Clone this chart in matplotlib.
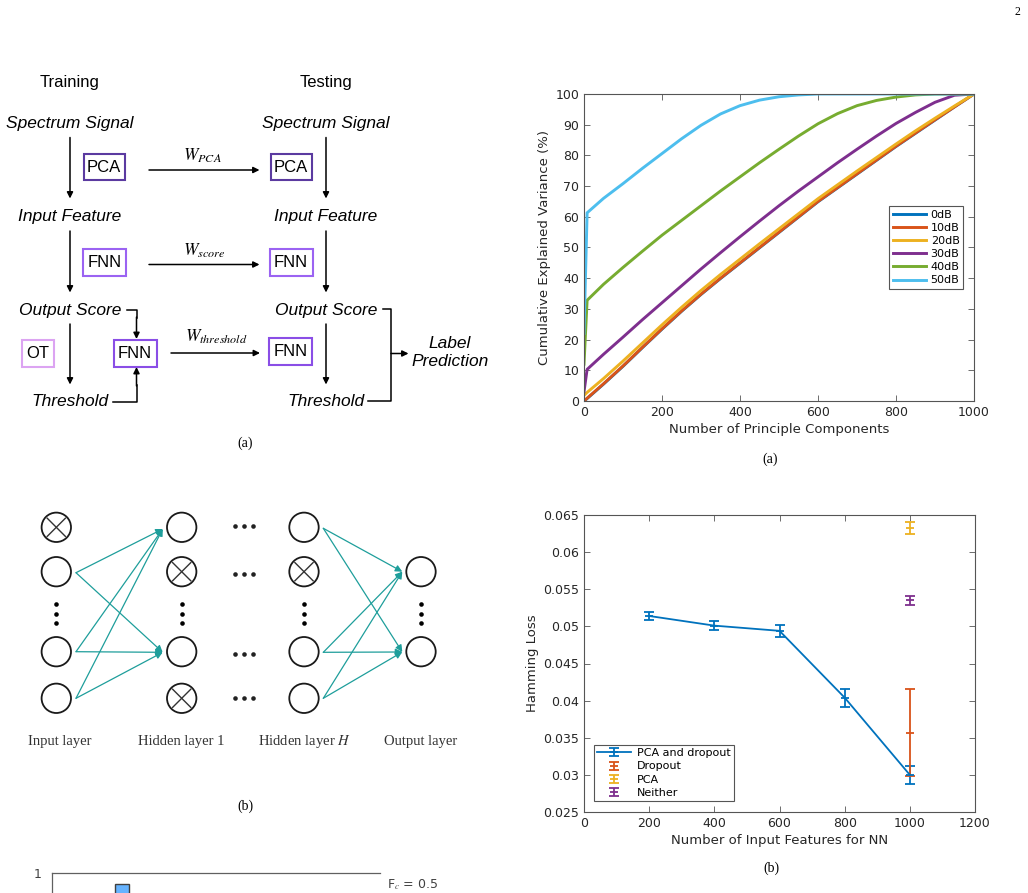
import matplotlib
matplotlib.use('Agg')
import matplotlib.pyplot as plt
from matplotlib.patches import Circle, Rectangle
from matplotlib.ticker import FuncFormatter
from matplotlib.container import ErrorbarContainer
from matplotlib.legend_handler import HandlerErrorbar
import numpy as np

plt.rcParams['mathtext.fontset'] = 'stix'

W, H = 1028, 893

# --- cumulative explained variance (%) vs number of principal components ---
n_pcs = [0, 8, 50, 100, 150, 200, 250, 300, 350, 400, 450, 500, 550, 600,
         650, 700, 750, 800, 850, 900, 950, 1000]
var_0db = [0, 0.8, 5.5, 11.3, 17.4, 23.4, 29.2, 34.7, 39.9, 44.9, 49.9, 54.9,
           59.9, 64.9, 69.4, 73.9, 78.4, 82.9, 87.2, 91.5, 95.8, 100]
var_10db = [0, 0.9, 5.6, 11.4, 17.5, 23.5, 29.3, 34.8, 40.0, 45.0, 50.0, 55.0,
            60.0, 65.0, 69.5, 74.0, 78.5, 83.0, 87.3, 91.6, 95.8, 100]
var_20db = [1.8, 2.8, 7.3, 13.0, 18.9, 24.8, 30.5, 36.0, 41.2, 46.2, 51.2, 56.1,
            61.0, 65.9, 70.4, 74.9, 79.3, 83.7, 88.0, 92.1, 96.1, 100]
var_30db = [3.0, 10.3, 15.2, 20.8, 26.5, 32.0, 37.5, 43.0, 48.3, 53.5, 58.6, 63.6,
            68.4, 73.0, 77.6, 82.0, 86.3, 90.4, 94.0, 97.3, 99.6, 100]
var_40db = [12.0, 32.8, 38.0, 43.5, 48.8, 54.0, 58.8, 63.6, 68.4, 73.0, 77.6, 82.0,
            86.3, 90.3, 93.6, 96.2, 97.9, 99.0, 99.7, 100, 100, 100]
var_50db = [22.0, 61.3, 66.0, 70.8, 75.8, 80.6, 85.4, 89.8, 93.5, 96.2, 98.0, 99.1,
            99.7, 100, 100, 100, 100, 100, 100, 100, 100, 100]
snr_labels = ['0dB', '10dB', '20dB', '30dB', '40dB', '50dB']
snr_colors = ['#0072BD', '#D95319', '#EDB120', '#7E2F8E', '#77AC30', '#4DBEEE']

# --- hamming loss vs number of input features ---
n_feat = [200, 400, 600, 800, 1000]
loss_both = [0.0514, 0.0501, 0.0494, 0.0404, 0.0300]
err_both = [0.00055, 0.00065, 0.0008, 0.00123, 0.0012]
n_feat_single = [1000]
loss_dropout = [0.0357]
err_dropout = [0.0059]
loss_pca = [0.0632]
err_pca = [0.0008]
loss_neither = [0.0535]
err_neither = [0.00065]

# --- bar chart cut off at the bottom of the page ---
bar_pos = [3]
bar_vals = [0.93]


def px_axes(fig, x0, y0, x1, y1):
    return fig.add_axes([x0 / W, 1 - y1 / H, (x1 - x0) / W, (y1 - y0) / H])


def style_matlab(ax):
    for s in ax.spines.values():
        s.set_color('#555555')
        s.set_linewidth(0.8)
    ax.tick_params(direction='in', top=True, right=True, length=4, width=0.6,
                   color='#555555', labelcolor='#262626', labelsize=9)


fig = plt.figure(figsize=(W / 100, H / 100), dpi=100)
pg = fig.add_axes([0, 0, 1, 1])
pg.set_xlim(0, W)
pg.set_ylim(H, 0)
pg.axis('off')

sans = 'Liberation Sans'
serif = 'Liberation Serif'


def arrow(x0, y0, x1, y1, color='black', lw=1.1, ms=9):
    pg.annotate('', xy=(x1, y1), xytext=(x0, y0),
                arrowprops=dict(arrowstyle='-|>', color=color, lw=lw,
                                mutation_scale=ms, shrinkA=0, shrinkB=0))


def box(x0, y0, x1, y1, label, ec):
    pg.add_patch(Rectangle((x0, y0), x1 - x0, y1 - y0, fill=False, ec=ec, lw=1.5))
    pg.text((x0 + x1) / 2, (y0 + y1) / 2 + 0.5, label, ha='center', va='center',
            fontsize=12, family=sans)


def itext(x, y, s, ha='center'):
    pg.text(x, y, s, ha=ha, va='center', fontsize=12.5, family=sans, style='italic')


# page number
pg.text(1017, 12, '2', ha='center', va='center', fontsize=8.5, family=serif)

# ---------- (a) training / testing flow ----------
pg.text(70, 82, 'Training', ha='center', va='center', fontsize=12, family=sans)
pg.text(326, 82, 'Testing', ha='center', va='center', fontsize=12, family=sans)
for cx in (70, 326):
    itext(cx, 123.5, 'Spectrum Signal')
    itext(cx, 216, 'Input Feature')
    itext(cx, 310, 'Output Score')
    itext(cx, 401.5, 'Threshold')
    arrow(cx, 137.5, cx, 198.5)
    arrow(cx, 231, cx, 292.5)
    arrow(cx, 324, cx, 384.5)

box(84, 153.5, 124.5, 179.5, 'PCA', '#5b3aa0')
box(270.5, 153.5, 311.5, 179.5, 'PCA', '#5b3aa0')
box(82.5, 248.5, 126, 276, 'FNN', '#9b63f2')
box(269.5, 248.5, 312.5, 276, 'FNN', '#9b63f2')
box(22, 339.5, 53.5, 366.5, 'OT', '#dca4f2')
box(113.5, 339.5, 156.5, 366.5, 'FNN', '#8a4ee6')
box(268.5, 338, 312, 365, 'FNN', '#8a4ee6')

arrow(149, 170, 259.5, 170)
pg.text(202, 156, r'$W_{PCA}$', ha='center', va='center', fontsize=12.5)
arrow(149, 264.5, 259.5, 264.5)
pg.text(204, 251, r'$W_{score}$', ha='center', va='center', fontsize=12.5)
arrow(171, 353, 260, 353)
pg.text(216, 337, r'$W_{threshold}$', ha='center', va='center', fontsize=12.5)

# training FNN threshold feedback
pg.plot([127, 136.5, 136.5], [310, 310, 318], color='black', lw=1.1)
arrow(136.5, 317, 136.5, 339)
pg.plot([113, 136.5, 136.5], [401.5, 401.5, 385], color='black', lw=1.1)
arrow(136.5, 386, 136.5, 367)

# testing bracket to label prediction
pg.plot([383, 391, 391, 368], [308.5, 308.5, 401, 401], color='black', lw=1.1)
arrow(391, 353.5, 408.5, 353.5)
itext(450, 343, 'Label')
itext(450, 362, 'Prediction')

pg.text(245, 443, '(a)', ha='center', va='center', fontsize=10, family=serif)

# ---------- (b) network with dropout ----------
r = 14.7
layers = {
    56.3: [(527.3, True), (571.7, False), (651.7, False), (698.3, False)],
    181.7: [(527.3, False), (571.7, True), (651.7, False), (698.3, True)],
    304.0: [(527.3, False), (571.7, True), (651.7, False), (698.3, False)],
    421.0: [(571.7, False), (651.7, False)],
}
for cx, nodes in layers.items():
    for cy, dropped in nodes:
        pg.add_patch(Circle((cx, cy), r, fill=False, ec='#1a1a1a', lw=1.3))
        if dropped:
            d = r * 0.62
            pg.plot([cx - d, cx + d], [cy - d, cy + d], color='#333333', lw=1)
            pg.plot([cx - d, cx + d], [cy + d, cy - d], color='#333333', lw=1)
    pg.plot([cx] * 3, [604.3, 613.7, 622.7], 'o', color='black', ms=3.3, mec='none')
for cy in (525.5, 574.3, 654.3, 697.7):
    pg.plot([235.3, 244.3, 253.3], [cy] * 3, 'o', color='#222222', ms=3.3, mec='none')

teal = '#1e9e9b'
for sy in (572.7, 651.7, 698.3):
    for ty in (529, 652.3):
        arrow(76, sy, 162.7, ty, color=teal, lw=0.9, ms=10)
for sy in (528.3, 652.3, 698.3):
    for ty in (571.7, 652):
        arrow(323.3, sy, 402.3, ty, color=teal, lw=0.9, ms=10)

for cx, lbl in [(60, 'Input layer'), (181.7, 'Hidden layer 1'),
                (304, 'Hidden layer $H$'), (421, 'Output layer')]:
    pg.text(cx, 741, lbl, ha='center', va='center', fontsize=10.5, family=serif,
            color='#333333')
pg.text(245, 806, '(b)', ha='center', va='center', fontsize=10, family=serif)

# ---------- right top: explained variance ----------
ax1 = px_axes(fig, 584, 94, 974, 401)
for vals, lbl, c in zip([var_0db, var_10db, var_20db, var_30db, var_40db, var_50db],
                        snr_labels, snr_colors):
    ax1.plot(n_pcs, vals, color=c, lw=2.1, label=lbl)
ax1.set_xlim(0, 1000)
ax1.set_ylim(0, 100)
ax1.set_xticks(range(0, 1001, 200))
ax1.set_yticks(range(0, 101, 10))
style_matlab(ax1)
ax1.set_xlabel('Number of Principle Components', fontsize=9.5, color='#262626', labelpad=3)
ax1.set_ylabel('Cumulative Explained Variance (%)', fontsize=9.5, color='#262626', labelpad=3)
leg = ax1.legend(loc='upper left', bbox_to_anchor=(0.782, 0.635), borderaxespad=0,
                 fontsize=8, handlelength=3.0, handletextpad=0.4, labelspacing=0.28,
                 borderpad=0.35, fancybox=False, framealpha=1, edgecolor='#555555')
leg.get_frame().set_linewidth(0.8)
pg.text(770, 459, '(a)', ha='center', va='center', fontsize=10, family=serif)

# ---------- right bottom: hamming loss ----------
ax2 = px_axes(fig, 584, 515, 975, 812)
ekw = dict(lw=1.3, capsize=3.3, capthick=1.3, marker='_', ms=6, mew=1.3)
ax2.errorbar(n_feat, loss_both, yerr=err_both, color='#0072BD', label='PCA and dropout', **ekw)
ax2.errorbar(n_feat_single, loss_dropout, yerr=err_dropout, color='#D95319', ls='none',
             label='Dropout', **ekw)
ax2.errorbar(n_feat_single, loss_pca, yerr=err_pca, color='#EDB120', ls='none',
             label='PCA', **ekw)
ax2.errorbar(n_feat_single, loss_neither, yerr=err_neither, color='#7E2F8E', ls='none',
             label='Neither', **ekw)
ax2.set_xlim(0, 1200)
ax2.set_ylim(0.025, 0.065)
ax2.set_xticks(range(0, 1201, 200))
ax2.set_yticks(np.arange(0.025, 0.0651, 0.005))
ax2.yaxis.set_major_formatter(FuncFormatter(lambda v, p: '%g' % round(v, 4)))
style_matlab(ax2)
ax2.set_xlabel('Number of Input Features for NN', fontsize=9.5, color='#262626', labelpad=3)
ax2.set_ylabel('Hamming Loss', fontsize=9.5, color='#262626', labelpad=3)
leg2 = ax2.legend(loc='upper left', bbox_to_anchor=(0.0256, 0.2256), borderaxespad=0,
                  fontsize=8, handlelength=3.0, handletextpad=0.6, labelspacing=0.28,
                  borderpad=0.3, fancybox=False, framealpha=1, edgecolor='#555555',
                  handler_map={ErrorbarContainer: HandlerErrorbar(xerr_size=0.4, yerr_size=0.36)})
leg2.get_frame().set_linewidth(0.8)
pg.text(771, 868, '(b)', ha='center', va='center', fontsize=10, family=serif)

# ---------- bottom left: chart cut off by the page edge ----------
ax3 = fig.add_axes([51.7 / W, (H - 873.3 - 150) / H, (380 - 51.7) / W, 150 / H])
ax3.bar(bar_pos, bar_vals, width=0.6, color='#66b3ff', edgecolor='#404040', lw=1)
ax3.set_xlim(0, 14)
ax3.set_ylim(0, 1)
ax3.set_yticks([1])
ax3.set_yticklabels(['1'])
ax3.set_xticks([])
for s in ('right', 'bottom'):
    ax3.spines[s].set_visible(False)
for s in ('top', 'left'):
    ax3.spines[s].set_color('#606060')
    ax3.spines[s].set_linewidth(0.9)
ax3.tick_params(axis='y', length=0, pad=7, labelsize=9, labelcolor='#404040')
pg.text(386.7, 885, r'F$_c$ = 0.5', ha='left', va='center', fontsize=9, color='#404040')

fig.savefig('out.png', dpi=100)
